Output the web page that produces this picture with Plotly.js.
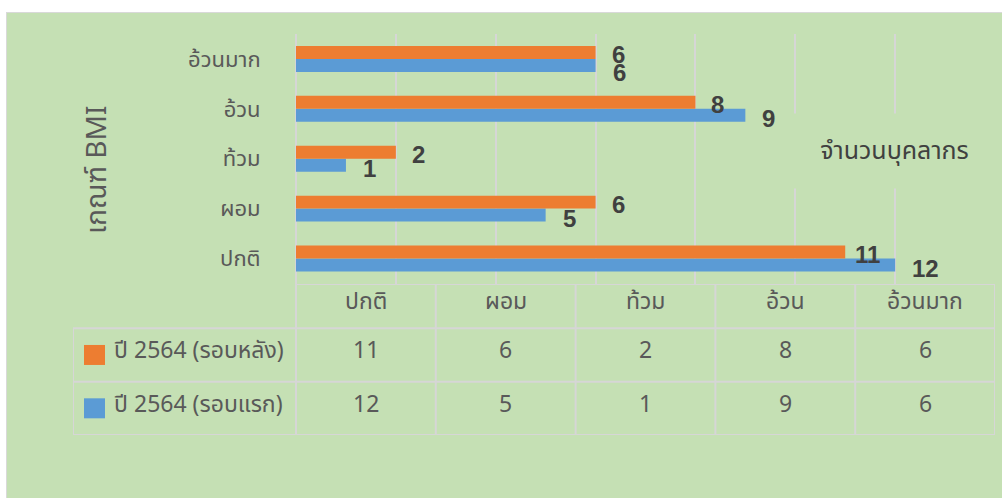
<!DOCTYPE html>
<html>
<head>
<meta charset="utf-8">
<script src="https://cdn.plot.ly/plotly-3.0.1.min.js"></script>
<style>
  html, body { margin: 0; padding: 0; background: #ffffff; width: 1002px; height: 498px; overflow: hidden; }
  #chart { position: absolute; left: 6px; top: 12px; width: 995px; height: 485px;
           border-left: 1px solid #d9d9d9; border-top: 1px solid #d9d9d9; }
</style>
</head>
<body>
<div id="chart"></div>
<script>
// ---- data ----
const categories = ['ปกติ', 'ผอม', 'ท้วม', 'อ้วน', 'อ้วนมาก'];
const seriesNames = ['ปี 2564 (รอบหลัง)', 'ปี 2564 (รอบแรก)'];
const valuesAfter = [11, 6, 2, 8, 6];   // ปี 2564 (รอบหลัง)
const valuesFirst = [12, 5, 1, 9, 6];   // ปี 2564 (รอบแรก)
const xAxisTitle = 'จำนวนบุคลากร';
const yAxisTitle = 'เกณฑ์ BMI';

// ---- styles ----
const GREEN = '#c5e0b4';
const ORANGE = '#ed7d31';
const BLUE = '#5b9bd5';
const GRID = '#d6d6d6';
const TXT = '#595959';
const THAI = '"Noto Sans Thai", "Noto Sans Thai UI", "Noto Sans", sans-serif';

const traces = [
  { type: 'bar', orientation: 'h', y: categories, x: valuesFirst, name: seriesNames[1],
    marker: { color: BLUE }, xaxis: 'x', yaxis: 'y', hoverinfo: 'none' },
  { type: 'bar', orientation: 'h', y: categories, x: valuesAfter, name: seriesNames[0],
    marker: { color: ORANGE }, xaxis: 'x', yaxis: 'y', hoverinfo: 'none' },
  { type: 'scatter', mode: 'markers', x: [], y: [], xaxis: 'x2', yaxis: 'y2', showlegend: false, hoverinfo: 'none' }
];

// data labels
const annotations = [];
const labelFont = { family: '"Liberation Sans Narrow", "Liberation Sans", sans-serif', size: 24, color: '#404040', weight: 'bold' };
categories.forEach((c, i) => {
  const top = i === categories.length - 1;
  annotations.push({ x: valuesAfter[i], y: c, xref: 'x', yref: 'y', text: String(valuesAfter[i]),
    showarrow: false, xanchor: 'left', xshift: (i === 0 ? 8 : 14), yshift: top ? 4 : 4, font: labelFont });
  annotations.push({ x: valuesFirst[i], y: c, xref: 'x', yref: 'y', text: String(valuesFirst[i]),
    showarrow: false, xanchor: 'left', xshift: 15, yshift: top ? -14 : -10, font: labelFont });
});

// axis titles
annotations.push({ xref: 'paper', yref: 'paper', x: 0.026, y: 0.6608, text: yAxisTitle, textangle: -90,
  showarrow: false, xanchor: 'center', yanchor: 'middle', font: { family: THAI, size: 28, color: TXT } });
annotations.push({ xref: 'paper', yref: 'paper', x: 0.8915, y: 0.708, text: xAxisTitle,
  showarrow: false, xanchor: 'center', yanchor: 'middle', width: 205, height: 72, bgcolor: GREEN,
  font: { family: THAI, size: 25, color: '#404040' } });

// ---- data table (x2 / y2) ----
const legendLeft = -1.595;
const headerTop = -0.83;
const shapes = [];
const line = { color: GRID, width: 2 };
for (let k = 0; k <= categories.length; k++) {
  shapes.push({ type: 'line', xref: 'x2', yref: 'y2', x0: k, x1: k, y0: headerTop, y1: seriesNames.length, line });
}
shapes.push({ type: 'line', xref: 'x2', yref: 'y2', x0: legendLeft, x1: legendLeft, y0: 0, y1: seriesNames.length, line });
shapes.push({ type: 'line', xref: 'x2', yref: 'y2', x0: 0, x1: categories.length, y0: headerTop, y1: headerTop, line });
for (let r = 0; r <= seriesNames.length; r++) {
  shapes.push({ type: 'line', xref: 'x2', yref: 'y2', x0: legendLeft, x1: categories.length, y0: r, y1: r, line });
}
const tableFont = { family: THAI, size: 23, color: TXT };
categories.forEach((c, i) => {
  annotations.push({ xref: 'x2', yref: 'y2', x: i + 0.5, y: headerTop / 2 - 0.08, text: c, showarrow: false,
    xanchor: 'center', yanchor: 'middle', font: tableFont });
});
const rows = [valuesAfter, valuesFirst];
const rowColors = [ORANGE, BLUE];
rows.forEach((vals, r) => {
  vals.forEach((v, i) => {
    annotations.push({ xref: 'x2', yref: 'y2', x: i + 0.5, y: r + 0.43, text: String(v), showarrow: false,
      xanchor: 'center', yanchor: 'middle', font: tableFont });
  });
  annotations.push({ xref: 'x2', yref: 'y2', x: legendLeft + 0.28, y: r + 0.43, text: seriesNames[r], showarrow: false,
    xanchor: 'left', yanchor: 'middle', font: tableFont });
  shapes.push({ type: 'rect', xref: 'x2', yref: 'y2', xsizemode: 'pixel', ysizemode: 'pixel',
    xanchor: legendLeft, yanchor: r + 0.5, x0: 11, x1: 32, y0: -10, y1: 10,
    fillcolor: rowColors[r], line: { width: 0 } });
});

const layout = {
  width: 995, height: 485,
  margin: { l: 66, r: 7, t: 21, b: 63 },
  paper_bgcolor: GREEN, plot_bgcolor: 'rgba(0,0,0,0)',
  showlegend: false,
  barmode: 'group', bargap: 0.48, bargroupgap: 0,
  font: { family: THAI, color: TXT },
  xaxis: { domain: [0.24187, 1], range: [0, 14], dtick: 2, tick0: 0, showticklabels: false,
    showgrid: true, gridcolor: GRID, gridwidth: 2, zeroline: true, zerolinecolor: GRID, zerolinewidth: 2,
    showline: false, anchor: 'y', fixedrange: true },
  yaxis: { domain: [0.37656, 1], type: 'category', ticks: 'outside', ticklen: 30, tickcolor: 'rgba(0,0,0,0)',
    tickfont: { family: THAI, size: 22, color: TXT }, showgrid: false, zeroline: false, showline: false,
    anchor: 'x', fixedrange: true },
  xaxis2: { domain: [0, 1], range: [legendLeft, categories.length], visible: false, anchor: 'y2', fixedrange: true },
  yaxis2: { domain: [0, 0.37656], range: [seriesNames.length, headerTop], visible: false, anchor: 'x2', fixedrange: true },
  shapes, annotations
};

Plotly.newPlot('chart', traces, layout, { displayModeBar: false, staticPlot: true });
</script>
</body>
</html>
